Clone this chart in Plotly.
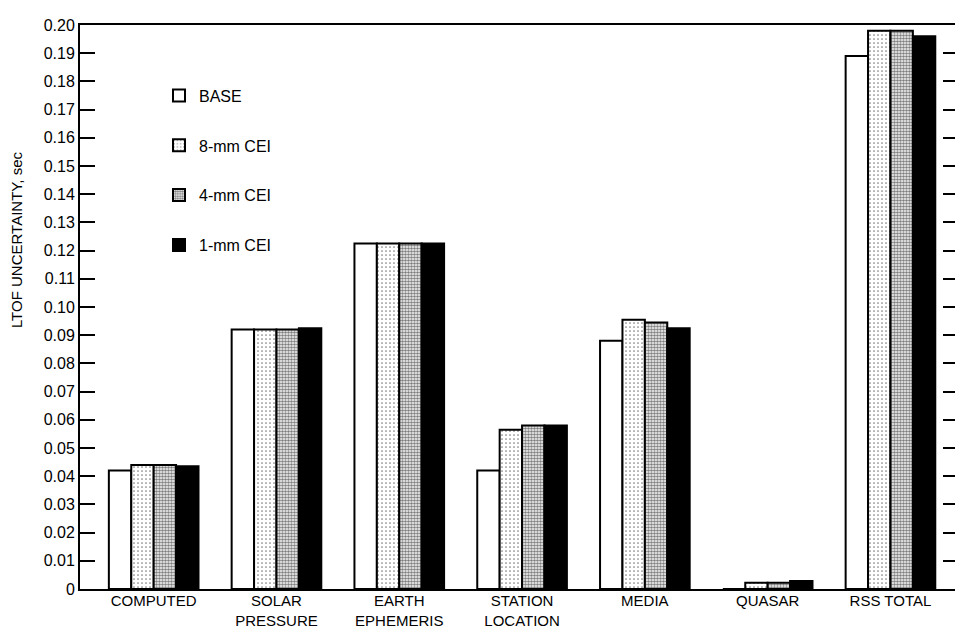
import plotly.graph_objects as go

CATEGORIES = [
    "COMPUTED",
    "SOLAR<br>PRESSURE",
    "EARTH<br>EPHEMERIS",
    "STATION<br>LOCATION",
    "MEDIA",
    "QUASAR",
    "RSS TOTAL",
]

BASE = [0.042, 0.092, 0.1225, 0.042, 0.088, 0.0, 0.189]
CEI_8MM = [0.044, 0.092, 0.1225, 0.0565, 0.0955, 0.0022, 0.198]
CEI_4MM = [0.044, 0.092, 0.1225, 0.058, 0.0945, 0.0022, 0.198]
CEI_1MM = [0.0435, 0.0925, 0.1225, 0.058, 0.0925, 0.0028, 0.196]

SERIES_NAMES = ["BASE", "8-mm CEI", "4-mm CEI", "1-mm CEI"]

TICK_VALS = [0, 0.01, 0.02, 0.03, 0.04, 0.05, 0.06, 0.07, 0.08, 0.09, 0.10,
             0.11, 0.12, 0.13, 0.14, 0.15, 0.16, 0.17, 0.18, 0.19, 0.20]
TICK_TEXT = ["0", "0.01", "0.02", "0.03", "0.04", "0.05", "0.06", "0.07", "0.08",
             "0.09", "0.10", "0.11", "0.12", "0.13", "0.14", "0.15", "0.16",
             "0.17", "0.18", "0.19", "0.20"]

FONT = "Liberation Sans, Arial, sans-serif"

STYLES = [
    {"color": "white"},
    {"color": "white", "pattern": {"shape": ".", "fgcolor": "black", "bgcolor": "white",
                                   "size": 4, "solidity": 0.15}},
    {"color": "white", "pattern": {"shape": ".", "fgcolor": "black", "bgcolor": "white",
                                   "size": 3, "solidity": 0.6}},
    {"color": "black"},
]

fig = go.Figure()
for i, (name, values) in enumerate(zip(SERIES_NAMES, [BASE, CEI_8MM, CEI_4MM, CEI_1MM])):
    marker = dict(STYLES[i])
    marker["line"] = {"color": "black", "width": 2}
    fig.add_trace(
        go.Bar(
            x=list(range(len(CATEGORIES))),
            y=values,
            name=name,
            legendgroup=name,
            marker=marker,
        )
    )

# page body has an 8px margin, so the figure is shrunk to fit the window
fig.update_layout(
    width=955,
    height=626,
    margin={"l": 72, "r": 5, "t": 17, "b": 45},
    paper_bgcolor="white",
    plot_bgcolor="white",
    font={"family": FONT, "color": "black", "size": 15},
    barmode="group",
    bargap=0.27,
    bargroupgap=0,
    legend={
        "x": 0.09,
        "y": 0.905,
        "xanchor": "left",
        "yanchor": "top",
        "bgcolor": "rgba(0,0,0,0)",
        "font": {"size": 16},
        "tracegroupgap": 26,
        "traceorder": "grouped",
    },
    showlegend=True,
    annotations=[
        {
            "text": "LTOF UNCERTAINTY, sec",
            "textangle": -90,
            "x": -0.072,
            "y": 0.62,
            "xref": "paper",
            "yref": "paper",
            "xanchor": "center",
            "yanchor": "middle",
            "showarrow": False,
            "font": {"size": 15},
        }
    ],
)

fig.update_xaxes(
    range=[-0.6, 6.55],
    tickvals=list(range(len(CATEGORIES))),
    ticktext=CATEGORIES,
    showline=True,
    mirror=True,
    linecolor="black",
    linewidth=2,
    showgrid=False,
    zeroline=False,
    ticks="",
    automargin=False,
    ticklabelstandoff=-3,
    tickfont={"size": 15},
)
fig.update_yaxes(
    range=[0, 0.2],
    tickvals=TICK_VALS,
    ticktext=TICK_TEXT,
    ticks="inside",
    ticklen=15,
    tickwidth=2,
    tickcolor="black",
    showline=True,
    mirror="ticks",
    linecolor="black",
    linewidth=2,
    showgrid=False,
    zeroline=False,
    automargin=False,
    tickfont={"size": 16},
)

fig.write_html("out.html")
